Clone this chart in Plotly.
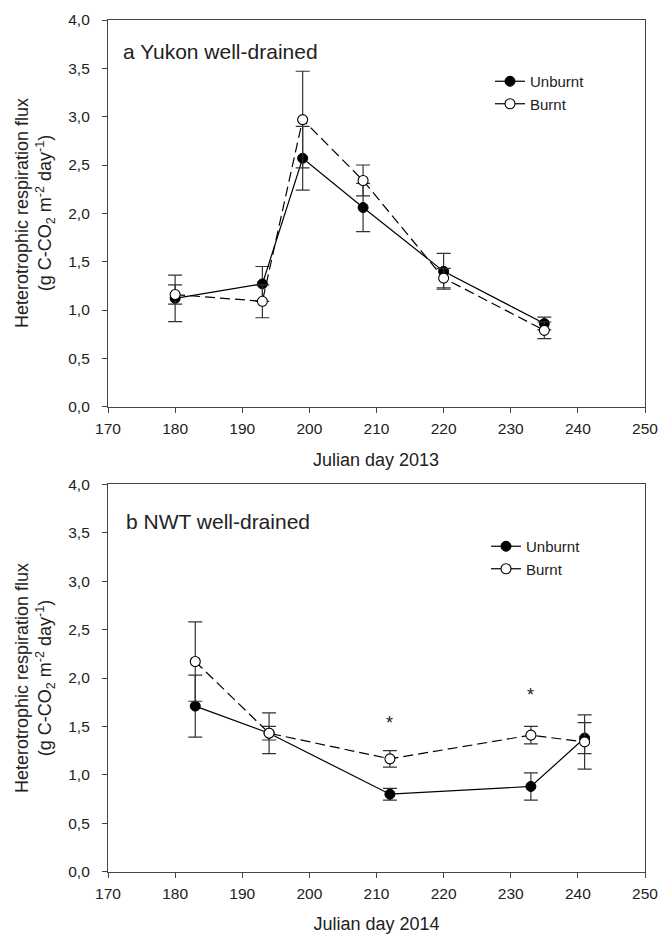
import plotly.graph_objects as go

W, H = 659, 934

# ---- data ----
days_2013 = [180, 193, 199, 208, 220, 235]
unburnt_2013 = [1.12, 1.27, 2.57, 2.06, 1.40, 0.86]
unburnt_2013_err = [0.24, 0.18, 0.33, 0.25, 0.185, 0.066]
burnt_2013 = [1.16, 1.09, 2.97, 2.34, 1.33, 0.79]
burnt_2013_err = [0.10, 0.17, 0.50, 0.16, 0.10, 0.086]

days_2014 = [183, 194, 212, 233, 241]
unburnt_2014 = [1.71, 1.43, 0.80, 0.88, 1.38]
unburnt_2014_err = [0.32, 0.07, 0.06, 0.14, 0.16]
burnt_2014 = [2.17, 1.43, 1.165, 1.41, 1.34]
burnt_2014_err = [0.41, 0.21, 0.086, 0.09, 0.28]

signif_days_2014 = [212, 233]
signif_y_2014 = [1.54, 1.82]

panel_titles = ["a Yukon well-drained", "b NWT well-drained"]
x_titles = ["Julian day 2013", "Julian day 2014"]
y_title = "Heterotrophic respiration flux<br>(g C-CO<sub>2</sub> m<sup>-2</sup> day<sup>-1</sup>)"
series_names = ["Unburnt", "Burnt"]

FONT = "Liberation Sans, Arial, sans-serif"
AX = "#444444"

def px_x(p):
    return p / W

def px_y(p):
    return 1 - p / H

fig = go.Figure()

def add_panel(xa, ya, legend_name, days, ub, ube, b, be):
    fig.add_trace(go.Scatter(
        x=days, y=ub, mode="lines+markers", xaxis=xa, yaxis=ya, showlegend=False,
        line=dict(color="black", width=1.2),
        marker=dict(symbol="circle", size=10, color="black", line=dict(color="black", width=1)),
        error_y=dict(type="data", array=ube, visible=True, color="#333333", thickness=1.2, width=7),
    ))
    fig.add_trace(go.Scatter(
        x=days, y=b, mode="lines+markers", xaxis=xa, yaxis=ya, showlegend=False,
        line=dict(color="black", width=1.2, dash="10px,5px"),
        marker=dict(symbol="circle", size=10, color="white", line=dict(color="black", width=1.1)),
        error_y=dict(type="data", array=be, visible=True, color="#333333", thickness=1.2, width=7),
    ))
    # legend entries (solid lines as in the original)
    fig.add_trace(go.Scatter(
        x=[None], y=[None], mode="lines+markers", xaxis=xa, yaxis=ya, name=series_names[0],
        legend=legend_name, line=dict(color="black", width=1.2),
        marker=dict(symbol="circle", size=10, color="black", line=dict(color="black", width=1)),
    ))
    fig.add_trace(go.Scatter(
        x=[None], y=[None], mode="lines+markers", xaxis=xa, yaxis=ya, name=series_names[1],
        legend=legend_name, line=dict(color="black", width=1.2),
        marker=dict(symbol="circle", size=10, color="white", line=dict(color="black", width=1.1)),
    ))

add_panel("x", "y", "legend", days_2013, unburnt_2013, unburnt_2013_err, burnt_2013, burnt_2013_err)
add_panel("x2", "y2", "legend2", days_2014, unburnt_2014, unburnt_2014_err, burnt_2014, burnt_2014_err)

xcommon = dict(range=[170, 250], dtick=10, tick0=170, ticks="outside", ticklen=5, tickwidth=1,
               tickcolor=AX, showline=True, mirror=True, linecolor=AX, linewidth=1.2,
               showgrid=False, zeroline=False, ticklabelstandoff=3, automargin=False,
               tickfont=dict(family=FONT, size=15.5, color="#222"), fixedrange=True)
ycommon = dict(range=[0, 4], dtick=0.5, tick0=0, tickformat=".1f", ticks="outside", ticklen=5,
               tickwidth=1, tickcolor=AX, showline=True, mirror=True, linecolor=AX, linewidth=1.2,
               showgrid=False, zeroline=False, ticklabelstandoff=9, automargin=False,
               tickfont=dict(family=FONT, size=15.5, color="#222"), fixedrange=True)

x_dom = [px_x(108), px_x(645)]
fig.update_layout(
    width=W, height=H, autosize=False,
    margin=dict(l=0, r=0, t=0, b=0),
    paper_bgcolor="white", plot_bgcolor="white",
    separators=", ",
    font=dict(family=FONT, color="#222"),
    xaxis=dict(domain=x_dom, anchor="y", **xcommon),
    yaxis=dict(domain=[px_y(406.7), px_y(20)], anchor="x", **ycommon),
    xaxis2=dict(domain=x_dom, anchor="y2",
                title=dict(text=x_titles[1], standoff=18, font=dict(family=FONT, size=18, color="#222")),
                **xcommon),
    yaxis2=dict(domain=[px_y(871.7), px_y(484.3)], anchor="x2", **ycommon),
    legend=dict(x=px_x(490), y=px_y(65), xanchor="left", yanchor="top",
                bgcolor="rgba(0,0,0,0)", font=dict(family=FONT, size=15, color="#222"),
                itemwidth=30, tracegroupgap=0),
    legend2=dict(x=px_x(486), y=px_y(530), xanchor="left", yanchor="top",
                 bgcolor="rgba(0,0,0,0)", font=dict(family=FONT, size=15, color="#222"),
                 itemwidth=30, tracegroupgap=0),
)

ann = []
# panel titles
ann.append(dict(text=panel_titles[0], xref="paper", yref="paper", x=px_x(121), y=px_y(52),
                xanchor="left", yanchor="middle", showarrow=False, font=dict(family=FONT, size=21, color="#222")))
ann.append(dict(text=panel_titles[1], xref="paper", yref="paper", x=px_x(124), y=px_y(521),
                xanchor="left", yanchor="middle", showarrow=False, font=dict(family=FONT, size=21, color="#222")))
# top x title
ann.append(dict(text=x_titles[0], xref="paper", yref="paper", x=px_x(376), y=px_y(460),
                xanchor="center", yanchor="middle", showarrow=False, font=dict(family=FONT, size=18, color="#222")))
# y titles
for yc in (213, 678):
    ann.append(dict(text=y_title, xref="paper", yref="paper", x=px_x(35), y=px_y(yc),
                    xanchor="center", yanchor="middle", textangle=-90, showarrow=False,
                    font=dict(family=FONT, size=18, color="#222")))
# significance asterisks
for d, v in zip(signif_days_2014, signif_y_2014):
    ann.append(dict(text="*", xref="x2", yref="y2", x=d, y=v, xanchor="center", yanchor="middle",
                    showarrow=False, font=dict(family=FONT, size=18, color="#222")))

fig.update_layout(annotations=ann)
fig.write_html("out.html")
